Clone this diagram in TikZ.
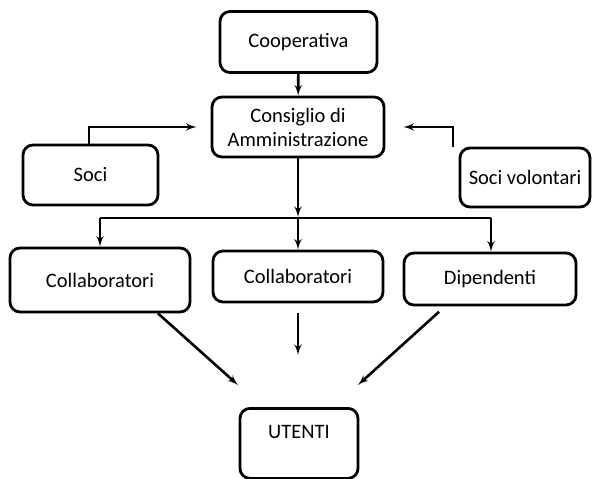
\documentclass[tikz,border=0pt]{standalone}
\usepackage{fontspec}
\setmainfont{Carlito}
\usetikzlibrary{arrows}
\usetikzlibrary{positioning}
\tikzstyle{line} = [draw, -latex']
\tikzstyle{plain} = [draw]

\begin{document}
\begin{tikzpicture}[x=1pt,y=-1pt,
        box/.style={draw, rounded corners=10pt, line width=2.8pt,
            font=\fontsize{20.5}{24}\selectfont, align=center, inner sep=2pt},
        conn/.style={line width=2.6pt}]
        \useasboundingbox (0,0) rectangle (592,479);
        %% Vertices
        \node [box, minimum width=157, minimum height=61] at (298.5,42) (coop) {Cooperativa};
        \node [box, minimum width=172, minimum height=60] at (298,127) (cda) {Consiglio di\\Amministrazione};
        \node [box, minimum width=135, minimum height=60] at (90.5,175) (soci) {Soci};
        \node [box, minimum width=130, minimum height=59] at (525,177.5) (vol) {Soci volontari};
        \node [box, minimum width=180, minimum height=64] at (100,280) (colA) {Collaboratori};
        \node [box, minimum width=170, minimum height=51] at (298,276.5) (colB) {Collaboratori};
        \node [box, minimum width=172, minimum height=52] at (490,279) (dip) {Dipendenti};
        \node [box, minimum width=118, minimum height=70, anchor=north] at (299,407) (ut) {UTENTI\\[-2pt]};
        %% Corners
        \coordinate (bar) at (298,218);
        \coordinate (barL) at (100,218);
        \coordinate (barR) at (491,218);
        \coordinate (sociUp) at (89,127);
        \coordinate (volUp) at (453,127);
        \coordinate (inA) at (238,385);
        \coordinate (inB) at (298,355);
        \coordinate (inC) at (358,385);
        %% Arcs
        \path [line, conn] (coop) -- (cda);
        \path [line, conn] (soci.north -| sociUp) -- (sociUp) -- ([xshift=-14pt]cda.west |- sociUp);
        \path [line, conn] (vol.north -| volUp) -- (volUp) -- ([xshift=18pt]cda.east |- volUp);
        \path [line, conn, shorten >=1pt] (cda) -- (bar);
        \path [plain, conn] (barL) -- (barR);
        \path [line, conn] (barL) -- (colA.north -| barL);
        \path [line, conn] (bar) -- (colB);
        \path [line, conn] (barR) -- (dip.north -| barR);
        \path [line, conn] ([xshift=58pt]colA.south) -- (inA);
        \path [line, conn, shorten <=10pt] (colB) -- (inB);
        \path [line, conn, shorten <=8pt] ([xshift=-45pt]dip.south) -- (inC);
    \end{tikzpicture}
\end{document}
